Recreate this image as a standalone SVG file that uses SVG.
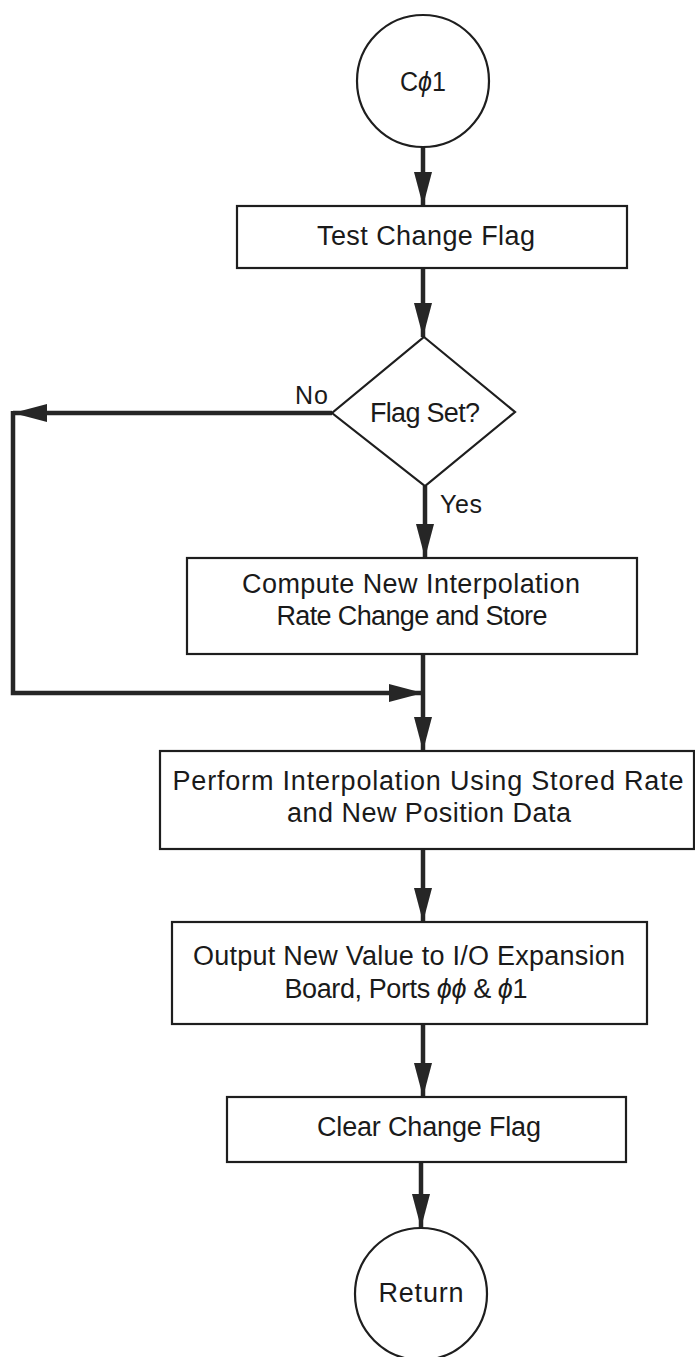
<svg xmlns="http://www.w3.org/2000/svg" width="695" height="1357" viewBox="0 0 695 1357">
  <defs>
    <style>
      .shape { fill: #ffffff; stroke: #1e1e1e; stroke-width: 2.2; }
      .conn { fill: none; stroke: #262626; stroke-width: 4.5; stroke-linejoin: miter; }
      .label { font-family: "Liberation Sans", "DejaVu Sans", sans-serif; font-size: 27px; fill: #1a1a1a; text-anchor: middle; }
      .tag { font-family: "Liberation Sans", "DejaVu Sans", sans-serif; font-size: 25px; fill: #1a1a1a; }
    </style>
    <marker id="arrow" markerUnits="userSpaceOnUse" markerWidth="34" markerHeight="18" refX="34" refY="9" orient="auto">
      <path d="M0,0 L34,9 L0,18 Z" fill="#262626"/>
    </marker>
  </defs>

  <rect width="695" height="1357" fill="#ffffff"/>

  <!-- connectors -->
  <g id="connectors">
    <path class="conn" d="M423,147 V206" marker-end="url(#arrow)"/>
    <path class="conn" d="M423,268 V337" marker-end="url(#arrow)"/>
    <path class="conn" d="M332,413 H13" marker-end="url(#arrow)"/>
    <path class="conn" d="M13,411 V693 H423" marker-end="url(#arrow)"/>
    <path class="conn" d="M425,486 V558" marker-end="url(#arrow)"/>
    <path class="conn" d="M423,654 V751" marker-end="url(#arrow)"/>
    <path class="conn" d="M423,849 V922" marker-end="url(#arrow)"/>
    <path class="conn" d="M423,1024 V1097" marker-end="url(#arrow)"/>
    <path class="conn" d="M421,1162 V1228" marker-end="url(#arrow)"/>
  </g>

  <!-- start terminal -->
  <g id="start">
    <circle class="shape" cx="423" cy="81" r="66"/>
    <text class="label" x="423" y="91" font-size="28" textLength="46" lengthAdjust="spacingAndGlyphs">C<tspan font-style="italic">ϕ</tspan>1</text>
  </g>

  <g id="test-flag">
    <rect class="shape" x="237" y="206" width="390" height="62"/>
    <text class="label" x="426" y="245" textLength="218" lengthAdjust="spacing">Test Change Flag</text>
  </g>

  <g id="flag-set">
    <polygon class="shape" points="424,337 515,412 425,486 332,413"/>
    <text class="label" x="425" y="422" textLength="110" lengthAdjust="spacing">Flag Set?</text>
    <text class="tag" x="295" y="404" textLength="33" lengthAdjust="spacing">No</text>
    <text class="tag" x="440" y="513" textLength="42" lengthAdjust="spacing">Yes</text>
  </g>

  <g id="compute-rate">
    <rect class="shape" x="187" y="558" width="450" height="96"/>
    <text class="label" x="411" y="593" textLength="338" lengthAdjust="spacing">Compute New Interpolation</text>
    <text class="label" x="412" y="625" textLength="271" lengthAdjust="spacing">Rate Change and Store</text>
  </g>

  <g id="interpolate">
    <rect class="shape" x="160" y="751" width="534" height="98"/>
    <text class="label" x="428" y="790" textLength="511" lengthAdjust="spacing">Perform Interpolation Using Stored Rate</text>
    <text class="label" x="429" y="822" textLength="284" lengthAdjust="spacing">and New Position Data</text>
  </g>

  <g id="output-value">
    <rect class="shape" x="172" y="922" width="475" height="102"/>
    <text class="label" x="409" y="965" textLength="432" lengthAdjust="spacing">Output New Value to I/O Expansion</text>
    <text class="label" x="406" y="998" textLength="243" lengthAdjust="spacing">Board, Ports <tspan font-style="italic">ϕϕ</tspan> &amp; <tspan font-style="italic">ϕ</tspan>1</text>
  </g>

  <g id="clear-flag">
    <rect class="shape" x="227" y="1097" width="399" height="65"/>
    <text class="label" x="429" y="1136" textLength="224" lengthAdjust="spacing">Clear Change Flag</text>
  </g>

  <!-- end terminal -->
  <g id="return">
    <circle class="shape" cx="421" cy="1294" r="66"/>
    <text class="label" x="421" y="1302" textLength="85" lengthAdjust="spacing">Return</text>
  </g>
</svg>
